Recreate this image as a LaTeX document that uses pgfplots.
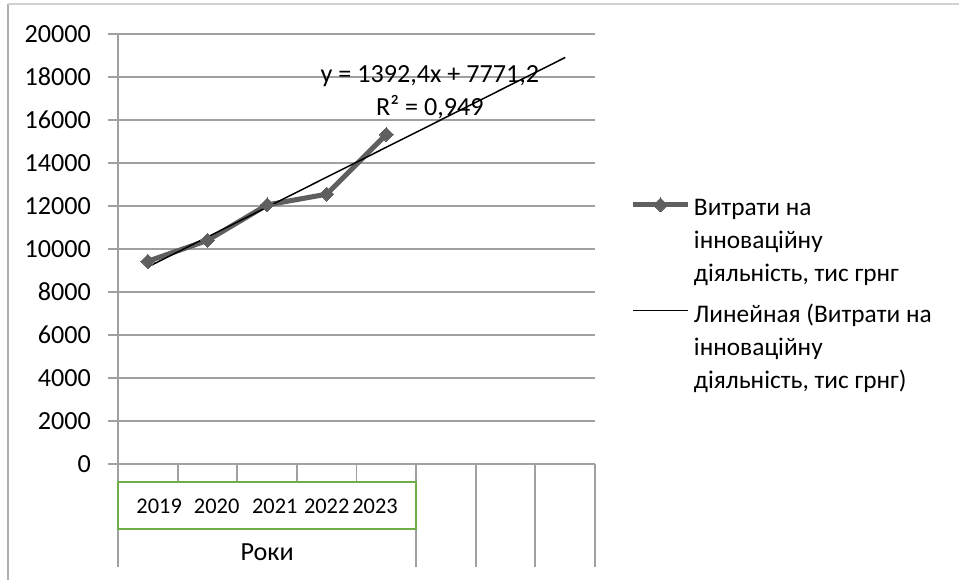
\documentclass[border=0pt]{standalone}
\usepackage{fontspec}
\setmainfont{Carlito}
\usepackage{pgfplots}
\pgfplotsset{compat=1.18}

\definecolor{serie}{RGB}{95,95,95}
\definecolor{gridc}{RGB}{160,160,160}
\definecolor{boxgreen}{RGB}{112,173,71}
\definecolor{frameleft}{RGB}{175,175,175}
\definecolor{frametop}{RGB}{210,210,210}

\begin{document}
\begin{tikzpicture}[font=\fontsize{10}{12}\selectfont]
\begin{axis}[
  scale only axis,
  width=178.9pt, height=161.25pt,
  xmin=0.5, xmax=8.5, ymin=0, ymax=20000,
  clip=false,
  axis x line*=bottom, axis y line*=left,
  axis line style={gridc, line width=0.7pt},
  xtick=\empty,
  ytick={0,2000,...,20000},
  scaled y ticks=false,
  ymajorgrids,
  grid style={gridc, line width=0.7pt},
  tick align=outside,
  major tick length=3.75pt,
  tick style={gridc, line width=0.7pt},
  /pgf/number format/assume math mode=true,
  /pgf/number format/set thousands separator={},
  yticklabel style={font=\fontsize{9.8}{12}\selectfont, xshift=-2.9pt},
  legend style={
    at={(axis description cs:1.0732,0.62)}, anchor=north west,
    draw=none, fill=none, inner sep=0pt,
    font=\fontsize{9.5}{12.4}\selectfont,
    row sep=31.6pt,
    nodes={inner xsep=1.3pt, inner ysep=0pt},
  },
  legend cell align=left,
  legend image code/.code={
    \draw[mark repeat=2, mark phase=2, yshift=1.8pt, #1]
      plot coordinates {(0pt,0pt) (10.3pt,0pt) (20.6pt,0pt)};
  },
]

% expenditure series
\addplot[serie, line width=1.9pt, mark=square*, mark size=1.85pt,
  mark options={solid, rotate=45, fill=serie, draw=serie, line width=0pt}]
  coordinates {(1,9430) (2,10400) (3,12050) (4,12550) (5,15330)};
\addlegendentry{\parbox[t]{110pt}{Витрати на\\інноваційну\\діяльність, тис грнг}}

% linear trend y = 1392.4x + 7771.2, forecast three periods forward
\addplot[black, line width=0.55pt] coordinates {(1,9163.6) (8,18910.4)};
\addlegendentry{\parbox[t]{110pt}{Линейная (Витрати на\\інноваційну\\діяльність, тис грнг)}}

\node[align=center, font=\fontsize{9.8}{12.4}\selectfont] at (axis cs:5.73,17280)
  {y = 1392,4x + 7771,2\\R² = 0,949};

% category separators below the axis
\pgfplotsinvokeforeach{1.5,2.5,3.5,4.5}{
  \draw[gridc, line width=0.7pt] (axis cs:#1,0) -- ++(0pt,-6.64pt);
}
\pgfplotsinvokeforeach{0.5,5.5,6.5,7.5,8.5}{
  \draw[gridc, line width=0.7pt] (axis cs:#1,0) -- ++(0pt,-38.6pt);
}

% inner level of the category axis
\draw[boxgreen, line width=0.7pt, fill=white]
  ([yshift=-6.64pt]axis cs:0.5,0) rectangle ([yshift=-24.5pt]axis cs:5.5,0);
\node[font=\fontsize{8.4}{10}\selectfont] at ([yshift=-15.75pt]axis cs:1.19,0) {2019};
\node[font=\fontsize{8.4}{10}\selectfont] at ([yshift=-15.75pt]axis cs:2.155,0) {2020};
\node[font=\fontsize{8.4}{10}\selectfont] at ([yshift=-15.75pt]axis cs:3.13,0) {2021};
\node[font=\fontsize{8.4}{10}\selectfont] at ([yshift=-15.75pt]axis cs:4.0,0) {2022};
\node[font=\fontsize{8.4}{10}\selectfont] at ([yshift=-15.75pt]axis cs:4.81,0) {2023};

% outer level of the category axis
\node[font=\fontsize{9.8}{12}\selectfont] at ([yshift=-32.9pt]axis cs:3.0,0) {Роки};
\end{axis}

% chart area frame
\draw[frameleft, line width=0.7pt] (-41.4pt,-43.5pt) -- (-41.4pt,172.5pt);
\draw[frametop, line width=0.6pt] (-41.4pt,172.5pt) -- (315.375pt,172.5pt);

\pgfresetboundingbox
\path[use as bounding box] (-44.25pt,-43.5pt) rectangle (315.375pt,174pt);
\end{tikzpicture}
\end{document}
